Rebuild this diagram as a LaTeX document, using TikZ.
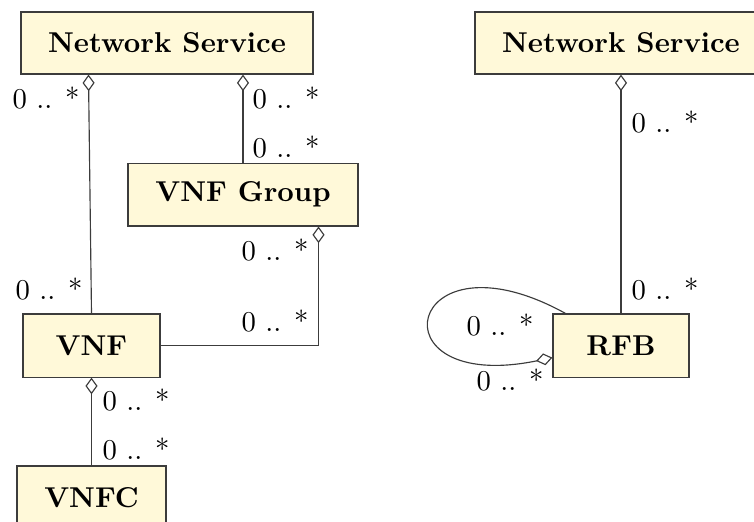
\documentclass[tikz,border=0pt]{standalone}
\usetikzlibrary{arrows.meta,calc}
\definecolor{boxfill}{RGB}{255,249,217}
\definecolor{edgecol}{RGB}{60,60,60}
\begin{document}
\begin{tikzpicture}[x=0.3484pt,y=-0.3484pt,
  cls/.style={draw=edgecol,fill=boxfill,inner sep=0pt,font=\bfseries,line width=0.4pt},
  mult/.style={anchor=base west,inner sep=0pt},
  agg/.style={{Diamond[open,length=5.8pt,width=4.2pt]}-},
  conn/.style={draw=edgecol,line width=0.4pt}]
\clip (0,0) rectangle (754,522);
\useasboundingbox (0,0) rectangle (754,522);
% classes
\node[cls,minimum width=101.7pt,minimum height=21.6pt] (NSa) at (167,43) {Network Service};
\node[cls,minimum width=101.7pt,minimum height=21.6pt] (NSb) at (621,43) {Network Service};
\node[cls,minimum width=80.1pt,minimum height=21.9pt] (VG) at (243,194.5) {VNF Group};
\node[cls,minimum width=47.7pt,minimum height=22pt] (VNF) at (91.5,345.5) {VNF};
\node[cls,minimum width=51.9pt,minimum height=22pt] (VNFC) at (91.5,497.5) {VNFC};
\node[cls,minimum width=47.4pt,minimum height=22pt] (RFB) at (621,345.5) {RFB};
% connection points
\coordinate (p1) at ($(NSa.south west)+(68,0)$);
\coordinate (p2) at ($(VG.south east)+(-40,0)$);
\coordinate (p3) at ($(RFB.north west)+(13,0)$);
\coordinate (p4) at ($(RFB.south west)+(0,-20)$);
% connectors
\draw[conn,agg] (p1) -- (VNF.north);
\draw[conn,agg] (VG.north |- NSa.south) -- (VG.north);
\draw[conn,agg] (p2) |- (VNF.east);
\draw[conn,agg] (VNF.south) -- (VNFC.north);
\draw[conn,agg] (NSb.south) -- (RFB.north);
\draw[conn,agg] (p4) .. controls (370,395) and (405,225) .. (p3);
% multiplicities
\node[mult] (m1) at (12,108) {0 .. *};
\node[mult] (m2) at (252,108) {0 .. *};
\node[mult] (m3) at (252,157) {0 .. *};
\node[mult] (m4) at (241,260) {0 .. *};
\node[mult] (m5) at (15,299) {0 .. *};
\node[mult] (m6) at (241,331) {0 .. *};
\node[mult] (m7) at (102,410) {0 .. *};
\node[mult] (m8) at (102,459) {0 .. *};
\node[mult] (m9) at (631,132) {0 .. *};
\node[mult] (m10) at (631,299) {0 .. *};
\node[mult] (m11) at (466,335) {0 .. *};
\node[mult] (m12) at (476,390) {0 .. *};
\end{tikzpicture}
\end{document}
